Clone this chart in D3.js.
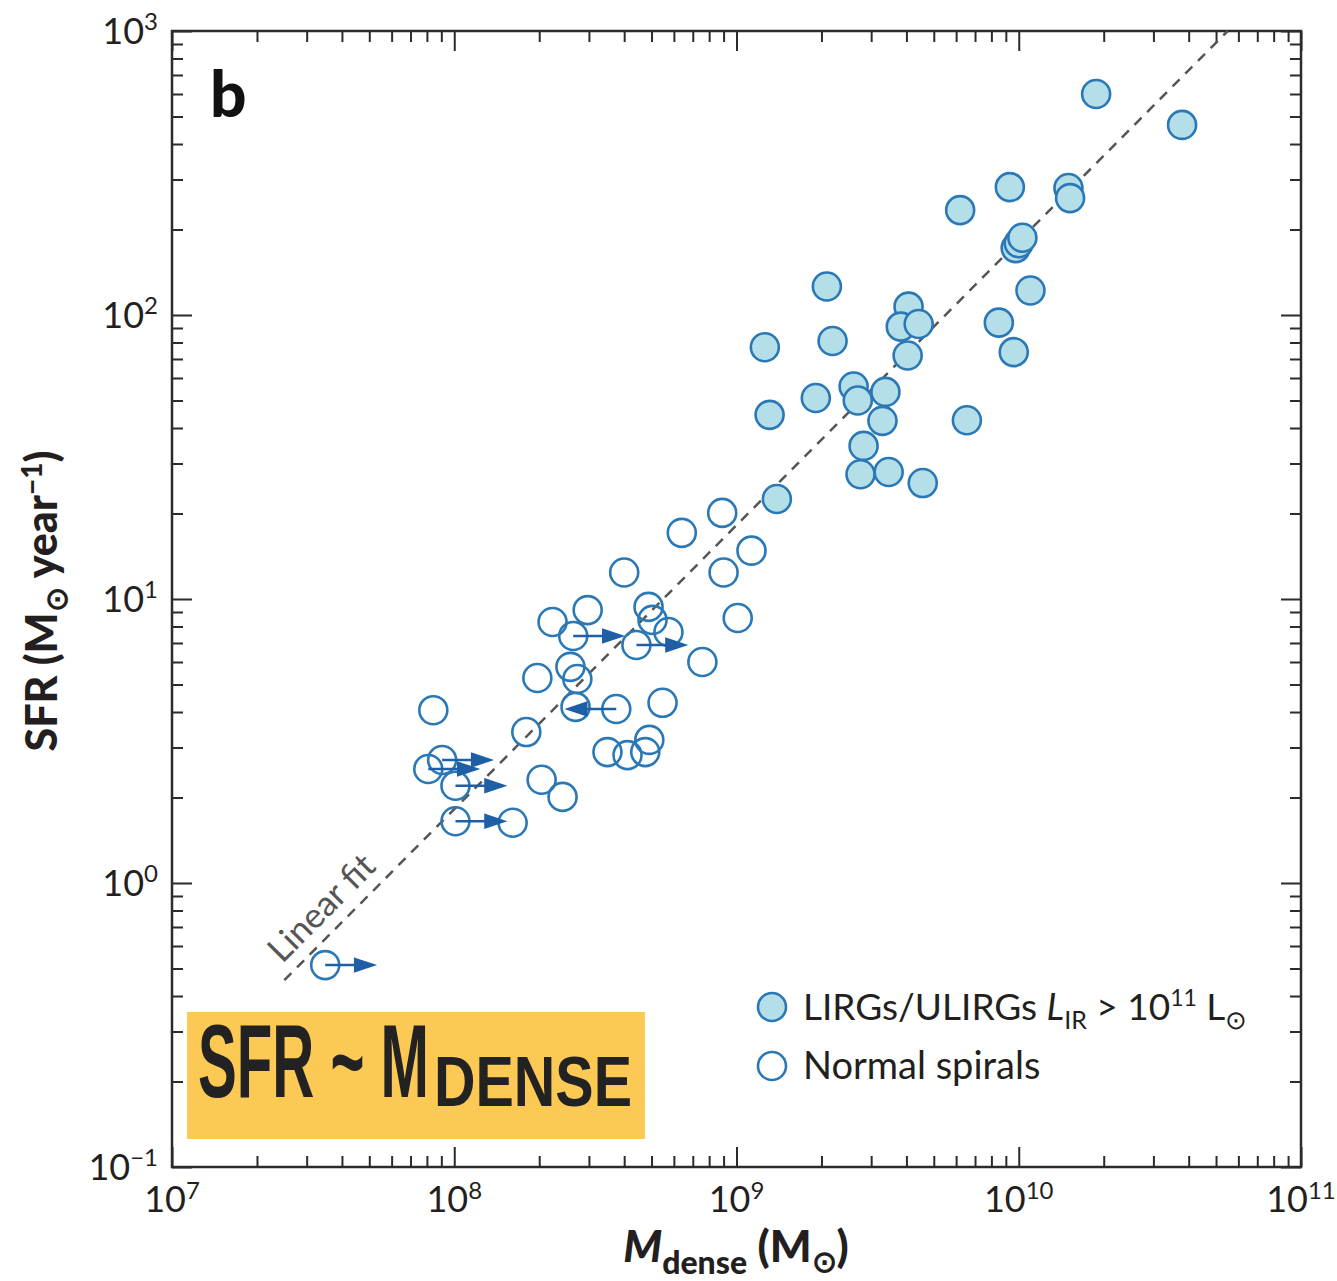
<!DOCTYPE html>
<html>
<head>
<meta charset="utf-8">
<script src="https://cdn.jsdelivr.net/npm/d3@7"></script>
<style>
  body { margin: 0; background: #fff; }
  svg { display: block; }
  text { font-family: Lato, "Open Sans", sans-serif; fill: #231f20; }
  .tick line { stroke: #2b2b2b; stroke-width: 2; }
</style>
</head>
<body>
<div id="chart"></div>
<script>
// LIRGs / ULIRGs (filled)
var lirgMass = [1.88e10, 3.79e10, 6.2e9, 9.3e9, 1.50e10, 1.52e10, 9.75e9, 1.0e10, 1.03e10, 1.10e10,
                2.09e9, 1.26e9, 2.19e9, 4.07e9, 3.82e9, 4.42e9, 4.04e9, 8.5e9, 9.6e9, 1.31e9,
                1.91e9, 2.60e9, 2.69e9, 3.37e9, 3.29e9, 2.82e9, 2.75e9, 3.46e9, 4.57e9, 6.55e9, 1.39e9];
var lirgSfr  = [600, 467, 234, 282, 280, 258, 172, 179, 187, 122,
                126, 77, 81, 107, 91, 93, 72, 94, 74, 44.5,
                51, 56, 50, 53.6, 42.4, 34.6, 27.5, 28, 25.6, 42.6, 22.5];

// normal spirals (open); limit: 1 = arrow to the right, -1 = arrow to the left
var spiralMass = [8.9e8, 6.4e8, 1.13e9, 4.0e8, 9.0e8, 4.88e8, 5.04e8, 5.74e8, 4.42e8, 2.97e8,
                  2.23e8, 2.64e8, 1.01e9, 7.57e8, 2.58e8, 2.73e8, 1.97e8, 2.69e8, 3.75e8, 5.47e8,
                  8.43e7, 1.80e8, 3.49e8, 4.11e8, 4.91e8, 4.75e8, 9.06e7, 8.09e7, 1.01e8, 2.04e8,
                  2.42e8, 1.01e8, 1.61e8, 3.49e7];
var spiralSfr  = [20.1, 17.1, 14.8, 12.4, 12.4, 9.38, 8.44, 7.65, 6.89, 9.14,
                  8.30, 7.41, 8.57, 6.0, 5.77, 5.23, 5.27, 4.17, 4.10, 4.31,
                  4.06, 3.40, 2.89, 2.82, 3.19, 2.89, 2.71, 2.52, 2.20, 2.31,
                  2.01, 1.65, 1.63, 0.514];
var spiralLimit = [0, 0, 0, 0, 0, 0, 0, 0, 1, 0,
                   0, 1, 0, 0, 0, 0, 0, 0, -1, 0,
                   0, 0, 0, 0, 0, 0, 1, 1, 1, 0,
                   0, 1, 0, 1];

// linear fit
var fitMass = [2.5e7, 5.5e10];
var fitSfr  = [0.455, 1000];

var xDecades = [1e7, 1e8, 1e9, 1e10, 1e11];
var xExps    = ['7', '8', '9', '10', '11'];
var yDecades = [0.1, 1, 10, 100, 1000];
var yExps    = ['\u22121', '0', '1', '2', '3'];

var W = 1337, H = 1281;
var plot = { x0: 172, x1: 1301, y0: 31, y1: 1167 };

var svg = d3.select('#chart').append('svg')
    .attr('width', W)
    .attr('height', H);

var x = d3.scaleLog().domain([1e7, 1e11]).range([plot.x0, plot.x1]);
var y = d3.scaleLog().domain([0.1, 1000]).range([plot.y1, plot.y0]);

var minorX = x.ticks().filter(d => xDecades.indexOf(d) < 0);
var minorY = y.ticks().filter(d => yDecades.indexOf(d) < 0);

// ticks on all four sides, pointing inward
function tickSide(axisFn, scale, vals, size, tr) {
    var g = svg.append('g')
        .attr('transform', tr)
        .call(axisFn(scale).tickValues(vals).tickSize(-size).tickFormat(''));
    g.select('.domain').remove();
}
tickSide(d3.axisBottom, x, minorX, 11, `translate(0,${plot.y1})`);
tickSide(d3.axisBottom, x, xDecades, 20, `translate(0,${plot.y1})`);
tickSide(d3.axisTop, x, minorX, 11, `translate(0,${plot.y0})`);
tickSide(d3.axisTop, x, xDecades, 20, `translate(0,${plot.y0})`);
tickSide(d3.axisLeft, y, minorY, 11, `translate(${plot.x0},0)`);
tickSide(d3.axisLeft, y, yDecades, 20, `translate(${plot.x0},0)`);
tickSide(d3.axisRight, y, minorY, 11, `translate(${plot.x1},0)`);
tickSide(d3.axisRight, y, yDecades, 20, `translate(${plot.x1},0)`);

svg.append('rect')
    .attr('x', plot.x0).attr('y', plot.y0)
    .attr('width', plot.x1 - plot.x0).attr('height', plot.y1 - plot.y0)
    .attr('fill', 'none')
    .attr('stroke', '#2b2b2b')
    .attr('stroke-width', 2.5);

// tick labels
var xl = svg.append('g').selectAll('text')
    .data(xDecades).enter().append('text')
    .attr('x', d => x(d))
    .attr('y', 1212)
    .attr('text-anchor', 'middle')
    .style('font-size', '36px');
xl.append('tspan').text('10');
xl.append('tspan').attr('dy', -13).style('font-size', '24px').text((d, i) => xExps[i]);

var yl = svg.append('g').selectAll('text')
    .data(yDecades).enter().append('text')
    .attr('x', 158)
    .attr('y', d => y(d) + 13)
    .attr('text-anchor', 'end')
    .style('font-size', '36px');
yl.append('tspan').text('10');
yl.append('tspan').attr('dy', -14).style('font-size', '24px').text((d, i) => yExps[i]);

// axis titles
var yt = svg.append('text')
    .attr('transform', `translate(57,601) rotate(-90)`)
    .attr('text-anchor', 'middle')
    .style('font-size', '43px')
    .style('font-weight', '900');
yt.append('tspan').text('SFR (M');
yt.append('tspan').attr('dy', 10).style('font-size', '30px').text('\u2299');
yt.append('tspan').attr('dy', -10).text(' year');
yt.append('tspan').attr('dy', -15).style('font-size', '28px').text('\u22121');
yt.append('tspan').attr('dy', 15).text(')');

var xt = svg.append('text')
    .attr('x', 736)
    .attr('y', 1262)
    .attr('text-anchor', 'middle')
    .style('font-size', '44px')
    .style('font-weight', '900');
xt.append('tspan').style('font-style', 'italic').text('M');
xt.append('tspan').attr('dy', 12).style('font-size', '32px').text('dense');
xt.append('tspan').attr('dy', -12).text(' (M');
xt.append('tspan').attr('dy', 10).style('font-size', '30px').text('\u2299');
xt.append('tspan').attr('dy', -10).text(')');

// panel letter
svg.append('text')
    .attr('x', 210).attr('y', 117)
    .style('font-size', '64px')
    .style('font-weight', '900')
    .style('fill', '#111')
    .text('b');

// linear fit
svg.append('line')
    .attr('x1', x(fitMass[0])).attr('y1', y(fitSfr[0]))
    .attr('x2', x(fitMass[1])).attr('y2', y(fitSfr[1]))
    .attr('stroke', '#555')
    .attr('stroke-width', 2.5)
    .attr('stroke-dasharray', '10,8');

var ang = Math.atan2(y(fitSfr[1]) - y(fitSfr[0]), x(fitMass[1]) - x(fitMass[0])) * 180 / Math.PI;
svg.append('text')
    .attr('transform', `translate(${x(3.9e7) - 9},${y(3.9e7 * fitSfr[0] / fitMass[0]) - 9}) rotate(${ang})`)
    .attr('text-anchor', 'middle')
    .style('font-size', '35px')
    .style('fill', '#555')
    .text('Linear fit');

var blue = '#2a78b6', arrowBlue = '#1f5fa6';

// normal spirals
var sp = d3.range(spiralMass.length);
svg.append('g').selectAll('circle')
    .data(sp).enter().append('circle')
    .attr('cx', i => x(spiralMass[i]))
    .attr('cy', i => y(spiralSfr[i]))
    .attr('r', 14)
    .attr('fill', 'none')
    .attr('stroke', blue)
    .attr('stroke-width', 2.6);

var arrowLen = 48;
svg.append('g').selectAll('path')
    .data(sp.filter(i => spiralLimit[i] !== 0)).enter().append('path')
    .attr('fill', arrowBlue)
    .attr('stroke', arrowBlue)
    .attr('stroke-width', 2.5)
    .attr('d', function (i) {
        var cx = x(spiralMass[i]), cy = y(spiralSfr[i]), s = spiralLimit[i];
        var tip = cx + s * arrowLen, base = tip - s * 18;
        return `M${cx},${cy}L${base},${cy}M${base},${cy - 6}L${tip},${cy}L${base},${cy + 6}Z`;
    });

// LIRGs
svg.append('g').selectAll('circle')
    .data(d3.range(lirgMass.length)).enter().append('circle')
    .attr('cx', i => x(lirgMass[i]))
    .attr('cy', i => y(lirgSfr[i]))
    .attr('r', 14)
    .attr('fill', '#b4dfe8')
    .attr('stroke', blue)
    .attr('stroke-width', 2.6);

// legend
var legend = svg.append('g').attr('transform', 'translate(772,1007)');
legend.append('circle').attr('r', 14).attr('fill', '#b4dfe8').attr('stroke', blue).attr('stroke-width', 2.6);
legend.append('circle').attr('cy', 59).attr('r', 14).attr('fill', 'none').attr('stroke', blue).attr('stroke-width', 2.6);

var l1 = legend.append('text').attr('x', 31).attr('y', 13).style('font-size', '37px');
l1.append('tspan').text('LIRGs/ULIRGs ');
l1.append('tspan').style('font-style', 'italic').text('L');
l1.append('tspan').attr('dy', 9).style('font-size', '25px').text('IR');
l1.append('tspan').attr('dy', -9).text(' > 10');
l1.append('tspan').attr('dy', -14).style('font-size', '23px').text('11');
l1.append('tspan').attr('dy', 14).text(' L');
l1.append('tspan').attr('dy', 9).style('font-size', '26px').text('\u2299');

legend.append('text').attr('x', 31).attr('y', 72).style('font-size', '38px').text('Normal spirals');

// highlighted relation box
var box = svg.append('g');
box.append('rect')
    .attr('x', 187).attr('y', 1012)
    .attr('width', 458).attr('height', 127)
    .attr('fill', '#fdc955');

// condensed lettering: squeeze each piece horizontally to its width in the box
function squeezed(str, size, x0, base, width) {
    var t = box.append('text')
        .style('font-family', '"Liberation Sans Narrow", "Liberation Sans", sans-serif')
        .style('font-weight', 'bold')
        .style('font-size', size + 'px')
        .style('fill', '#222')
        .text(str);
    var w = t.node().getComputedTextLength();
    t.attr('transform', `translate(${x0},${base}) scale(${width / w},1)`);
}
squeezed('SFR ~ M', 104, 198, 1097, 231);
squeezed('DENSE', 70, 434, 1106, 198);
</script>
</body>
</html>
